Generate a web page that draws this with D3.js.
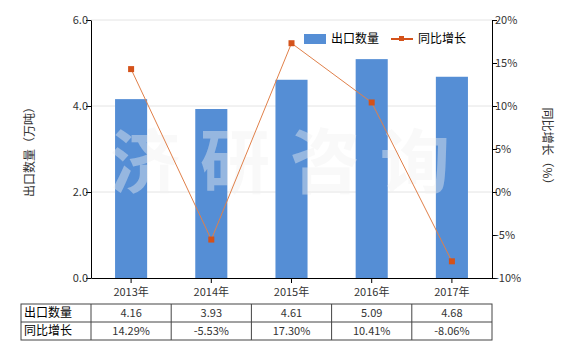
<!DOCTYPE html>
<html>
<head>
<meta charset="utf-8">
<script src="https://cdn.jsdelivr.net/npm/d3@7"></script>
<style>
  body { margin: 0; background: #fff; }
  svg text { font-family: "Microsoft YaHei", "Noto Sans CJK SC", sans-serif; }
</style>
</head>
<body>
<div class="content"></div>
<script>
// chart data
var years = ["2013年", "2014年", "2015年", "2016年", "2017年"];
var exportQty = [4.16, 3.93, 4.61, 5.09, 4.68];
var growth = [14.29, -5.53, 17.30, 10.41, -8.06];
var qtyLabels = ["4.16", "3.93", "4.61", "5.09", "4.68"];
var growthLabels = ["14.29%", "-5.53%", "17.30%", "10.41%", "-8.06%"];
var leftTicks = [0, 2, 4, 6];
var rightTicks = [-10, -5, 0, 5, 10, 15, 20];

var W = 580, H = 350;
var plotL = 91, plotR = 492, plotT = 20, plotB = 278;

var svg = d3.select(".content")
    .append("svg")
    .attr("width", W)
    .attr("height", H);

var x = d3.scaleBand()
    .domain(years)
    .range([plotL, plotR]);

var y = d3.scaleLinear()
    .domain([0, 6])
    .range([plotB, plotT]);

var y2 = d3.scaleLinear()
    .domain([-10, 20])
    .range([plotB, plotT]);

// gridlines
svg.append("g")
    .selectAll("line")
    .data(leftTicks.filter(function(d) { return d > 0; }))
    .enter().append("line")
    .attr("x1", plotL).attr("x2", plotR)
    .attr("y1", function(d) { return y(d); })
    .attr("y2", function(d) { return y(d); })
    .attr("stroke", "#e4e4e4")
    .attr("stroke-width", 1);

// bars
svg.append("g")
    .selectAll("rect")
    .data(exportQty)
    .enter().append("rect")
    .attr("x", function(d, i) { return x(years[i]) + x.bandwidth() * 0.3; })
    .attr("width", x.bandwidth() * 0.4)
    .attr("y", function(d) { return y(d); })
    .attr("height", function(d) { return plotB - y(d); })
    .attr("fill", "#558ed5");

// watermark
svg.append("text")
    .attr("x", 290)
    .attr("y", 188)
    .attr("text-anchor", "middle")
    .attr("font-size", 70)
    .attr("font-weight", "bold")
    .attr("letter-spacing", 20)
    .attr("fill", "#f0f0f0")
    .attr("fill-opacity", 0.42)
    .text("济研咨询");

// line
var line = d3.line()
    .x(function(d, i) { return x(years[i]) + x.bandwidth() / 2; })
    .y(function(d) { return y2(d); });

svg.append("path")
    .datum(growth)
    .attr("fill", "none")
    .attr("stroke", "#e0804a")
    .attr("stroke-width", 1)
    .attr("d", line);

svg.append("g")
    .selectAll("rect")
    .data(growth)
    .enter().append("rect")
    .attr("x", function(d, i) { return x(years[i]) + x.bandwidth() / 2 - 3; })
    .attr("y", function(d) { return y2(d) - 3; })
    .attr("width", 6)
    .attr("height", 6)
    .attr("fill", "#d4521a");

// left axis
var yAxis = svg.append("g")
    .attr("transform", "translate(" + plotL + ",0)")
    .call(d3.axisLeft(y).tickValues(leftTicks).tickFormat(d3.format(".1f")).tickSize(5).tickSizeOuter(0));

// right axis
var y2Axis = svg.append("g")
    .attr("transform", "translate(" + plotR + ",0)")
    .call(d3.axisRight(y2).tickValues(rightTicks).tickFormat(function(d) { return d + "%"; }).tickSize(5).tickSizeOuter(0));

// bottom axis
var xAxis = svg.append("g")
    .attr("transform", "translate(0," + plotB + ")")
    .call(d3.axisBottom(x).tickSize(5).tickSizeOuter(0));

[yAxis, y2Axis, xAxis].forEach(function(g) {
    g.selectAll("path, line").attr("stroke", "#000");
    g.selectAll("text").attr("fill", "#333").attr("font-size", 11);
});
yAxis.selectAll("text").attr("x", -3);
y2Axis.selectAll("text").attr("x", 3);
xAxis.selectAll("text").attr("dy", "0.9em");

// axis titles
svg.append("text")
    .attr("transform", "translate(34,149) rotate(-90)")
    .attr("text-anchor", "middle")
    .attr("font-size", 12)
    .attr("fill", "#333")
    .text("出口数量（万吨）");

svg.append("text")
    .attr("transform", "translate(543,149) rotate(90)")
    .attr("text-anchor", "middle")
    .attr("font-size", 12)
    .attr("fill", "#333")
    .text("同比增长（%）");

// legend
var legend = svg.append("g");
legend.append("rect")
    .attr("x", 304).attr("y", 34)
    .attr("width", 22).attr("height", 10)
    .attr("fill", "#558ed5");
legend.append("text")
    .attr("x", 331).attr("y", 43)
    .attr("font-size", 12).attr("fill", "#000")
    .text("出口数量");
legend.append("line")
    .attr("x1", 391).attr("x2", 413)
    .attr("y1", 39).attr("y2", 39)
    .attr("stroke", "#d4521a").attr("stroke-width", 2);
legend.append("rect")
    .attr("x", 399).attr("y", 36)
    .attr("width", 5).attr("height", 5)
    .attr("fill", "#d4521a");
legend.append("text")
    .attr("x", 418).attr("y", 43)
    .attr("font-size", 12).attr("fill", "#000")
    .text("同比增长");

// data table
var tableLeft = 21, rowTop = 304, rowH = 18;
var rows = [
    { name: "出口数量", cells: qtyLabels },
    { name: "同比增长", cells: growthLabels }
];
var table = svg.append("g");
table.append("rect")
    .attr("x", tableLeft).attr("y", rowTop)
    .attr("width", plotR - tableLeft).attr("height", rowH * 2)
    .attr("fill", "none").attr("stroke", "#444");
table.append("line")
    .attr("x1", tableLeft).attr("x2", plotR)
    .attr("y1", rowTop + rowH).attr("y2", rowTop + rowH)
    .attr("stroke", "#444");
table.selectAll("line.col")
    .data(years)
    .enter().append("line")
    .attr("class", "col")
    .attr("x1", function(d) { return x(d); })
    .attr("x2", function(d) { return x(d); })
    .attr("y1", rowTop).attr("y2", rowTop + rowH * 2)
    .attr("stroke", "#444");

rows.forEach(function(r, ri) {
    var ty = rowTop + rowH * ri + 13;
    table.append("text")
        .attr("x", tableLeft + 3).attr("y", ty)
        .attr("font-size", 12).attr("fill", "#000")
        .text(r.name);
    table.selectAll("text.v" + ri)
        .data(r.cells)
        .enter().append("text")
        .attr("class", "v" + ri)
        .attr("x", function(d, i) { return x(years[i]) + x.bandwidth() / 2; })
        .attr("y", ty)
        .attr("text-anchor", "middle")
        .attr("font-size", 11).attr("fill", "#333")
        .text(function(d) { return d; });
});
</script>
</body>
</html>
